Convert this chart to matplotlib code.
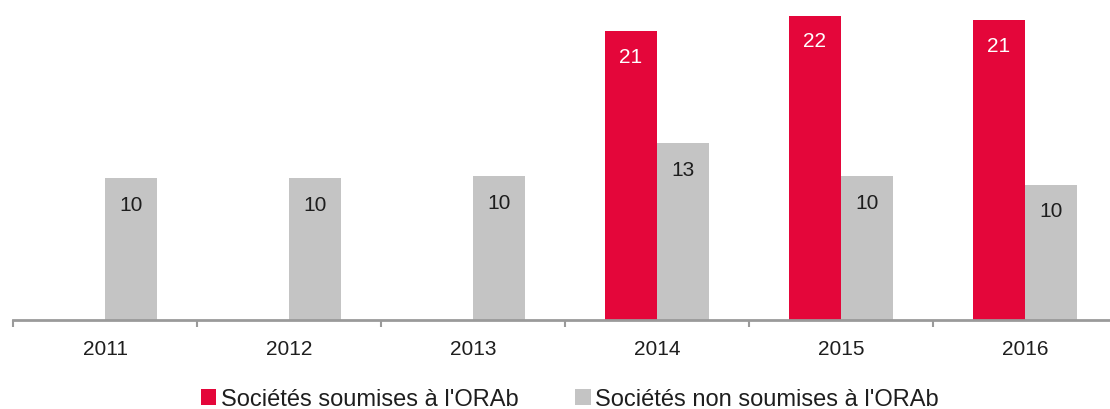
import matplotlib
matplotlib.use("Agg")
import matplotlib.pyplot as plt
from matplotlib.patches import Patch
import numpy as np

plt.rcParams['font.family'] = ['Liberation Sans', 'DejaVu Sans']

# ---------------------------------------------------------------------------
# Data
# ---------------------------------------------------------------------------
years = ['2011', '2012', '2013', '2014', '2015', '2016']
orab_years = ['2014', '2015', '2016']
orab_vals = [20.9, 22.0, 21.7]
orab_labels = ['21', '22', '21']
non_orab_vals = [10.3, 10.3, 10.4, 12.8, 10.4, 9.8]
non_orab_labels = ['10', '10', '10', '13', '10', '10']

series_names = ["Sociétés soumises à l'ORAb", "Sociétés non soumises à l'ORAb"]

RED = '#E4063A'
GREY = '#C4C4C4'
TXT = '#1E1E1E'
AXIS = '#9A9A9A'

W, H = 1110, 410
fig = plt.figure(figsize=(W / 100, H / 100), dpi=100)
ax = fig.add_axes([13 / W, (H - 321) / H, 1104 / W, 321 / H])

x = np.arange(len(years))
bw = 0.283
x_orab = np.array([years.index(y) for y in orab_years])

red_bars = ax.bar(x_orab - bw / 2, orab_vals, width=bw, color=RED, zorder=2)
grey_bars = ax.bar(x + bw / 2, non_orab_vals, width=bw, color=GREY, zorder=2)

for bar, lab in zip(red_bars, orab_labels):
    ax.annotate(lab, (bar.get_x() + bar.get_width() / 2, bar.get_height()),
                xytext=(0, -18), textcoords='offset points',
                ha='center', va='center', color='white', fontsize=15)
for bar, lab in zip(grey_bars, non_orab_labels):
    ax.annotate(lab, (bar.get_x() + bar.get_width() / 2, bar.get_height()),
                xytext=(0, -19), textcoords='offset points',
                ha='center', va='center', color=TXT, fontsize=15)

ax.set_xlim(-0.5, len(years) - 0.5)
ax.set_ylim(0, 23.23)

# category labels centered, tick marks on the boundaries
ax.set_xticks(x)
ax.set_xticklabels(years, fontsize=15, color=TXT)
ax.tick_params(axis='x', which='major', length=0, pad=14)
ax.set_xticks(np.arange(-0.5, len(years)), minor=True)
ax.tick_params(axis='x', which='minor', length=5, width=1.5, color=AXIS,
               direction='out')
ax.set_yticks([])

for side in ['left', 'right', 'top']:
    ax.spines[side].set_visible(False)
ax.spines['bottom'].set_color(AXIS)
ax.spines['bottom'].set_linewidth(2)
ax.spines['bottom'].set_zorder(3)

handles = [Patch(facecolor=RED, edgecolor='none'),
           Patch(facecolor=GREY, edgecolor='none')]
fig.legend(handles, series_names, loc='center', bbox_to_anchor=(570 / W, 1 - 400 / H),
           ncol=2, frameon=False, fontsize=17, handlelength=0.65, handleheight=0.65,
           handletextpad=0.2, columnspacing=2.4, labelcolor=TXT, borderpad=0)

fig.savefig('out.png', dpi=100)
